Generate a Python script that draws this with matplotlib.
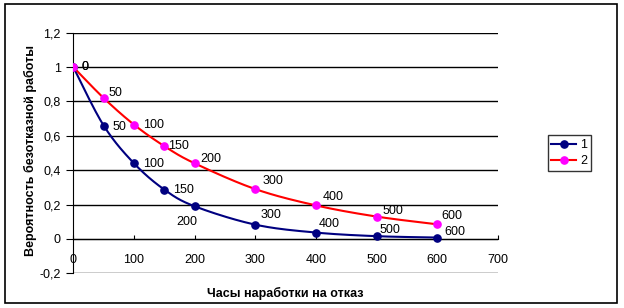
import numpy as np
import matplotlib
matplotlib.use("Agg")
import matplotlib.pyplot as plt
from matplotlib.patches import Rectangle
from matplotlib.lines import Line2D

plt.rcParams['font.family'] = ['Liberation Sans', 'DejaVu Sans']

hours = [0, 50, 100, 150, 200, 300, 400, 500, 600]
series1 = [1.0, 0.66, 0.44, 0.287, 0.19, 0.083, 0.037, 0.016, 0.008]
series2 = [1.0, 0.82, 0.665, 0.54, 0.44, 0.29, 0.195, 0.13, 0.085]
series_names = ['1', '2']
point_labels = [str(h) for h in hours]
x_ticks = [0, 100, 200, 300, 400, 500, 600, 700]
y_ticks = [-0.2, 0, 0.2, 0.4, 0.6, 0.8, 1.0, 1.2]
x_title = 'Часы наработки на отказ'
y_title = 'Вероятность безотказной работы'

# label offsets in pixels (styling)
off1 = [(8, 0), (9, -1), (9, -1), (9, 0), (-18, -16), (5, 10), (3, 9), (3, 6), (7, 6)]
off2 = [(8, 0), (5, 5), (9, 0), (4, 0), (6, 4), (7, 8), (7, 8), (6, 6), (4, 8)]


def smooth(xs, ys, n=30):
    p = np.column_stack([xs, ys]).astype(float)
    ext = np.vstack([p[0], p, p[-1]])
    out = []
    for i in range(1, len(ext) - 2):
        p0, p1, p2, p3 = ext[i - 1], ext[i], ext[i + 1], ext[i + 2]
        c1 = p1 + (p2 - p0) / 6.0
        c2 = p2 - (p3 - p1) / 6.0
        t = np.linspace(0, 1, n)[:, None]
        seg = ((1 - t) ** 3) * p1 + 3 * ((1 - t) ** 2) * t * c1 + 3 * (1 - t) * t ** 2 * c2 + t ** 3 * p2
        out.append(seg if i == 1 else seg[1:])
    s = np.vstack(out)
    return s[:, 0], s[:, 1]


fig = plt.figure(figsize=(6.24, 3.08), dpi=100)
ax = fig.add_axes([73.3 / 624, 1 - 273.3 / 308, (498 - 73.3) / 624, (273.3 - 32.7) / 308])

ax.set_xlim(0, 700)
ax.set_ylim(-0.2, 1.2)
for yv in y_ticks:
    ax.axhline(yv, color='black', lw=1.0, zorder=1)

navy = '#000080'
red = '#FF0000'
mag = '#FF00FF'

sx, sy = smooth(hours, series1)
ax.plot(sx, sy, color=navy, lw=1.5, zorder=3)
ax.plot(hours, series1, ls='none', marker='o', ms=5.2, color=navy, zorder=4)
sx, sy = smooth(hours, series2)
ax.plot(sx, sy, color=red, lw=1.5, zorder=3)
ax.plot(hours, series2, ls='none', marker='o', ms=5.2, color=mag, zorder=4)

for h, v, lab, o in zip(hours, series1, point_labels, off1):
    ax.annotate(lab, (h, v), xytext=o, textcoords='offset pixels', ha='left', va='center',
                fontsize=9, zorder=5)
for h, v, lab, o in zip(hours, series2, point_labels, off2):
    ax.annotate(lab, (h, v), xytext=o, textcoords='offset pixels', ha='left', va='center',
                fontsize=9, zorder=5)

ax.spines['top'].set_visible(False)
ax.spines['right'].set_visible(False)
ax.spines['bottom'].set_position(('data', 0))
ax.spines['left'].set_color('black')
ax.spines['bottom'].set_color('black')
ax.spines['left'].set_zorder(2)
ax.set_xticks(x_ticks)
ax.set_xticklabels([str(v) for v in x_ticks])
ax.set_yticks(y_ticks)
ax.set_yticklabels([('%g' % v).replace('.', ',') for v in y_ticks])
ax.tick_params(axis='x', direction='in', length=3, pad=11, labelsize=9, color='black')
ax.tick_params(axis='y', direction='out', length=5, pad=4, labelsize=9, color='black')
for t in ax.get_xticklabels():
    t.set_zorder(1)

fig.text(285 / 624, 1 - 293 / 308, x_title, ha='center', va='center', fontsize=9, fontweight='bold')
fig.text(30 / 624, 1 - 150 / 308, y_title, ha='center', va='center', rotation=90, fontsize=9,
         fontweight='bold')

handles = [Line2D([], [], color=navy, lw=1.5, marker='o', ms=5.2),
           Line2D([], [], color=red, lw=1.5, marker='o', ms=5.2, markerfacecolor=mag, markeredgecolor=mag)]
leg = fig.legend(handles, series_names, loc='center', bbox_to_anchor=(569.3 / 624, 1 - 153 / 308),
                 frameon=True, fancybox=False, edgecolor='black', fontsize=9, handlelength=2.0,
                 handletextpad=0.3, borderpad=0.3, labelspacing=0.3, borderaxespad=0)
leg.get_frame().set_linewidth(1.0)

fig.patches.append(Rectangle((5 / 624, 1 - 303 / 308), (616.7 - 5) / 624, (303 - 4.3) / 308,
                             transform=fig.transFigure, fill=False, edgecolor='black', lw=1.2))

fig.savefig('out.png', dpi=100)
